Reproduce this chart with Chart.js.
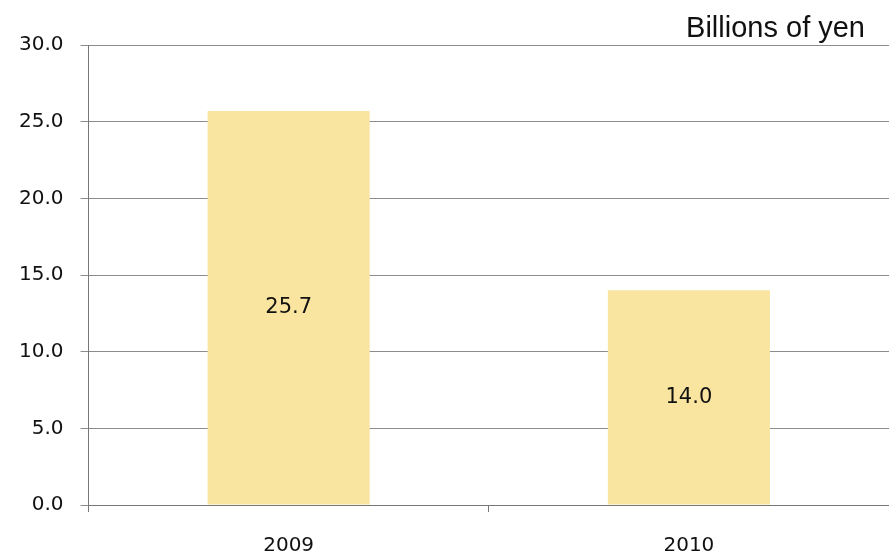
<!DOCTYPE html>
<html>
<head>
<meta charset="utf-8">
<script src="https://cdn.jsdelivr.net/npm/chart.js@4/dist/chart.umd.min.js"></script>
<style>
html,body{margin:0;padding:0;background:#fff;}
#wrap{width:889px;height:557px;position:relative;}
</style>
</head>
<body>
<div id="wrap"><canvas id="c" width="889" height="557"></canvas></div>
<script>
const categories = ['2009', '2010'];
const values = [25.7, 14.0];
const unitLabel = 'Billions of yen';
const yTicks = [0, 5, 10, 15, 20, 25, 30];

const valueLabels = {
  id: 'valueLabels',
  afterDatasetsDraw(chart) {
    const ctx = chart.ctx;
    const meta = chart.getDatasetMeta(0);
    ctx.save();
    ctx.font = '21px "DejaVu Sans", sans-serif';
    ctx.fillStyle = '#111';
    ctx.textAlign = 'center';
    ctx.textBaseline = 'middle';
    meta.data.forEach((bar, i) => {
      const mid = (bar.y + bar.base) / 2;
      ctx.fillText(values[i].toFixed(1), bar.x, mid);
    });
    ctx.restore();
  }
};

const unitTitle = {
  id: 'unitTitle',
  afterDraw(chart) {
    const ctx = chart.ctx;
    ctx.save();
    ctx.font = '29px "Liberation Sans", sans-serif';
    ctx.fillStyle = '#111';
    ctx.textAlign = 'right';
    ctx.textBaseline = 'alphabetic';
    ctx.fillText(unitLabel, chart.chartArea.right - 24, chart.chartArea.top - 8);
    ctx.restore();
  }
};

new Chart(document.getElementById('c'), {
  type: 'bar',
  data: {
    labels: categories,
    datasets: [{
      data: values,
      backgroundColor: '#F9E5A0',
      borderWidth: 0,
      barPercentage: 0.405,
      categoryPercentage: 1.0
    }]
  },
  options: {
    responsive: false,
    animation: false,
    layout: { padding: { top: 45, right: 0, left: 2, bottom: -23 } },
    plugins: { legend: { display: false }, tooltip: { enabled: false } },
    scales: {
      x: {
        grid: { drawOnChartArea: false, drawTicks: true, tickLength: 7, color: '#777' },
        border: { color: '#777' },
        ticks: { color: '#111', font: { size: 20, family: '"DejaVu Sans", sans-serif' }, padding: 22 }
      },
      y: {
        min: 0, max: 30,
        afterBuildTicks(axis) { axis.ticks = yTicks.map(v => ({ value: v })); },
        grid: { color: '#8c8c8c', tickLength: 8, drawTicks: true },
        border: { color: '#777' },
        ticks: {
          color: '#111',
          font: { size: 20, family: '"DejaVu Sans", sans-serif' },
          padding: 17,
          callback: v => Number(v).toFixed(1)
        }
      }
    }
  },
  plugins: [valueLabels, unitTitle]
});
</script>
</body>
</html>
